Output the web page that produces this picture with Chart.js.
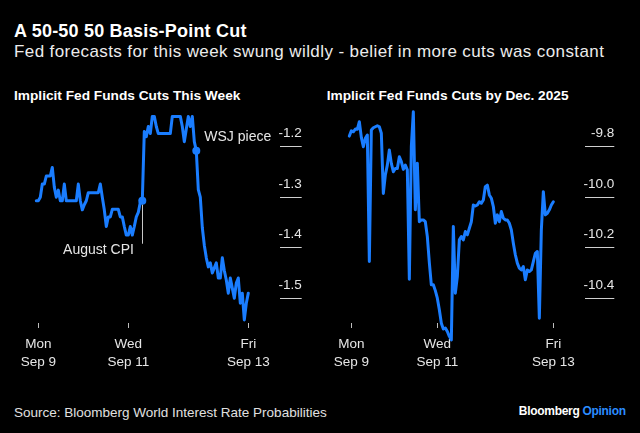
<!DOCTYPE html>
<html>
<head>
<meta charset="utf-8">
<script src="https://cdn.jsdelivr.net/npm/chart.js@4.4.1/dist/chart.umd.min.js"></script>
<style>
  body { margin: 0; background: #000; width: 640px; height: 433px; overflow: hidden; position: relative;
         font-family: "Liberation Sans", Arial, sans-serif; color: #fff; }
  .t { position: absolute; white-space: nowrap; line-height: 1; }
  #title { left: 14px; top: 22.3px; font-size: 18px; font-weight: bold; letter-spacing: .2px; }
  #subtitle { left: 14px; top: 43.3px; font-size: 17px; letter-spacing: .4px; color: #ececec; }
  .ptitle { top: 89.1px; font-size: 13.7px; font-weight: bold; }
  #source { left: 14px; top: 405.6px; font-size: 13.5px; color: #e0e0e0; }
  #brand { right: 14.3px; top: 404.8px; font-size: 12px; font-weight: bold; letter-spacing: -.3px; }
  #brand span { color: #2b8cff; }
  .box { position: absolute; top: 105px; width: 320px; height: 268px; }
</style>
</head>
<body>
<div class="t" id="title">A 50-50 50 Basis-Point Cut</div>
<div class="t" id="subtitle">Fed forecasts for this week swung wildly - belief in more cuts was constant</div>
<div class="t ptitle" style="left:14px">Implicit Fed Funds Cuts This Week</div>
<div class="t ptitle" style="left:326.7px">Implicit Fed Funds Cuts by Dec. 2025</div>
<div class="box" style="left:0"><canvas id="weekChart" width="320" height="268"></canvas></div>
<div class="box" style="left:320px"><canvas id="decChart" width="320" height="268"></canvas></div>
<div class="t" id="source">Source: Bloomberg World Interest Rate Probabilities</div>
<div class="t" id="brand">Bloomberg <span>Opinion</span></div>

<script>
// x = sample number (evenly spaced through the week), y = implied cuts
const dayTickLabels = [["Mon", "Sep 9"], ["Wed", "Sep 11"], ["Fri", "Sep 13"]];

const weekTicks = [1, 46, 106];
const weekYTicks = [-1.2, -1.3, -1.4, -1.5];
const weekCuts = [
  -1.307, -1.307, -1.300, -1.274, -1.274, -1.258, -1.258, -1.258, -1.241, -1.280,
  -1.300, -1.286, -1.307, -1.307, -1.274, -1.307, -1.307, -1.307, -1.307, -1.307,
  -1.307, -1.274, -1.307, -1.325, -1.315, -1.307, -1.291, -1.291, -1.291, -1.291,
  -1.291, -1.291, -1.274, -1.300, -1.325, -1.358, -1.339, -1.339, -1.324, -1.324,
  -1.324, -1.324, -1.339, -1.339, -1.358, -1.375, -1.375, -1.358, -1.375, -1.358,
  -1.339, -1.330, -1.310, -1.307, -1.170, -1.180, -1.160, -1.174, -1.140, -1.140,
  -1.160, -1.174, -1.174, -1.174, -1.174, -1.174, -1.174, -1.174, -1.140, -1.140,
  -1.140, -1.140, -1.140, -1.160, -1.190, -1.165, -1.140, -1.160, -1.140, -1.190,
  -1.208, -1.285, -1.300, -1.360, -1.395, -1.420, -1.438, -1.430, -1.450, -1.440,
  -1.430, -1.460, -1.460, -1.420, -1.445, -1.464, -1.490, -1.460, -1.480, -1.500,
  -1.470, -1.460, -1.510, -1.490, -1.543, -1.510, -1.490
];
const eventNames = ["August CPI", "WSJ piece"];
const eventIdx = [53, 80];

const decTicks = [1, 44, 102];
const decYTicks = [-9.8, -10.0, -10.2, -10.4];
const decCuts = [
  -9.758, -9.737, -9.741, -9.730, -9.731, -9.701, -9.763, -9.800, -9.767, -9.754,
  -10.255, -9.734, -9.725, -9.721, -9.717, -9.721, -9.747, -9.985, -9.912, -9.873,
  -9.813, -9.866, -9.899, -9.886, -9.886, -9.840, -9.859, -9.890, -9.873, -9.892,
  -10.325, -9.800, -9.662, -10.050, -9.866, -10.097, -10.090, -10.090, -10.097, -10.156,
  -10.259, -10.347, -10.347, -10.370, -10.400, -10.446, -10.499, -10.522, -10.518, -10.532,
  -10.551, -10.565, -10.116, -10.380, -10.314, -10.169, -10.156, -10.169, -10.136, -10.149,
  -10.123, -10.097, -10.031, -10.035, -10.031, -10.018, -10.024, -10.011, -9.958, -9.952,
  -9.991, -10.004, -10.037, -10.103, -10.070, -10.097, -10.057, -10.083, -10.090, -10.090,
  -10.103, -10.130, -10.182, -10.228, -10.261, -10.281, -10.288, -10.275, -10.327, -10.288,
  -10.294, -10.288, -10.255, -10.222, -10.215, -10.479, -10.130, -9.978, -10.070, -10.064,
  -10.050, -10.031, -10.018
];

const BLUE = "#1a7dff";
Chart.defaults.font.family = '"Liberation Sans", Arial, sans-serif';
Chart.defaults.animation = false;

function makeChart(id, values, xTicks, yTicks, cfg) {
  const datasets = [{
    data: values.map((v, i) => ({ x: i, y: v })),
    borderColor: BLUE,
    borderWidth: 3,
    pointRadius: 0,
    tension: 0,
    borderJoinStyle: "round",
    borderCapStyle: "round",
    clip: false
  }];
  if (cfg.dots) {
    datasets.push({
      data: cfg.dots.map(i => ({ x: i, y: values[i] })),
      showLine: false,
      pointRadius: 4,
      pointBackgroundColor: BLUE,
      pointBorderWidth: 0,
      clip: false
    });
  }
  return new Chart(document.getElementById(id), {
    type: "line",
    data: { datasets },
    options: {
      responsive: false,
      layout: { padding: { left: cfg.padLeft, right: cfg.padRight, top: 5, bottom: 0 } },
      plugins: { legend: { display: false }, tooltip: { enabled: false } },
      scales: {
        x: {
          type: "linear",
          min: 0,
          max: cfg.xMax,
          afterBuildTicks: s => { s.ticks = xTicks.map(v => ({ value: v })); },
          afterFit: s => { s.height = 50; },
          border: { display: false },
          grid: { drawOnChartArea: false, drawTicks: true, tickLength: 5, color: "#bdbdbd" },
          ticks: {
            autoSkip: false, maxRotation: 0, padding: 8, color: "#e6e6e6",
            font: { size: 13.5, lineHeight: "17.4px" },
            callback: (v, i) => dayTickLabels[i]
          }
        },
        y: {
          position: "right",
          min: cfg.yMin,
          max: cfg.yMax,
          afterBuildTicks: s => { s.ticks = yTicks.map(v => ({ value: v })); },
          afterFit: s => { s.width = cfg.axisW; s.paddingTop = 0; s.paddingBottom = 0; },
          border: { display: false },
          grid: { drawOnChartArea: false, drawTicks: true, tickLength: cfg.axisW, color: "#d0d0d0" },
          ticks: {
            mirror: true, padding: cfg.axisW, labelOffset: -13.4, color: "#e6e6e6",
            font: { size: 13.5 },
            callback: v => v.toFixed(1)
          }
        }
      }
    },
    plugins: cfg.plugins || []
  });
}

const eventNotes = {
  id: "eventNotes",
  afterDatasetsDraw(chart) {
    const { ctx, scales } = chart;
    ctx.save();
    ctx.font = '14px "Liberation Sans", Arial, sans-serif';
    ctx.fillStyle = "#e6e6e6";
    ctx.textBaseline = "middle";
    // August CPI: thin leader line down from the dot
    let x = scales.x.getPixelForValue(eventIdx[0]);
    let y = scales.y.getPixelForValue(weekCuts[eventIdx[0]]);
    ctx.strokeStyle = "#c8c8c8";
    ctx.lineWidth = 1;
    ctx.beginPath();
    ctx.moveTo(Math.round(x) + 0.5, y + 4);
    ctx.lineTo(Math.round(x) + 0.5, y + 43);
    ctx.stroke();
    ctx.textAlign = "right";
    ctx.fillText(eventNames[0], x - 8.4, y + 49.3);
    // WSJ piece
    x = scales.x.getPixelForValue(eventIdx[1]);
    y = scales.y.getPixelForValue(weekCuts[eventIdx[1]]);
    ctx.textAlign = "left";
    ctx.fillText(eventNames[1], x + 8, y - 13.4);
    ctx.restore();
  }
};

makeChart("weekChart", weekCuts, weekTicks, weekYTicks, {
  padLeft: 36.3, padRight: 18.3, axisW: 21.7, xMax: 121.85,
  yMin: -1.5491, yMax: -1.1273, dots: eventIdx, plugins: [eventNotes]
});

makeChart("decChart", decCuts, decTicks, decYTicks, {
  padLeft: 29.33, padRight: 25.7, axisW: 29.3, xMax: 117.83,
  yMin: -10.4982, yMax: -9.6547
});
</script>
</body>
</html>
